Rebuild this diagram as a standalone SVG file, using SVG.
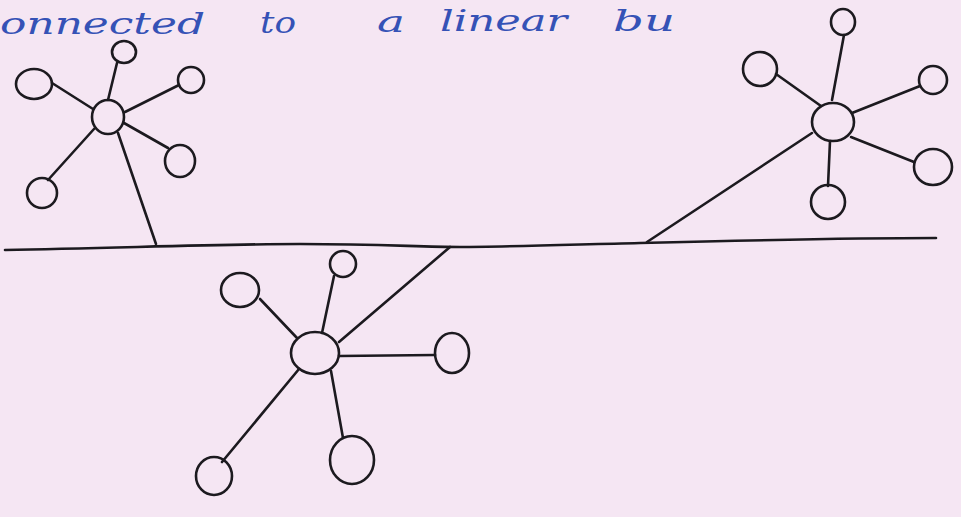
<svg xmlns="http://www.w3.org/2000/svg" width="961" height="517" viewBox="0 0 961 517">
<style>
.bg{fill:#f5e6f3}
.n{fill:none;stroke:#1c1a1f;stroke-width:2.6}
.c{fill:none;stroke:#1c1a1f;stroke-width:2.6;stroke-linecap:round;stroke-linejoin:round}
.t{font-family:"DejaVu Serif","Liberation Serif",serif;font-style:italic;fill:#3552b6;font-size:29px}
</style>
<rect class="bg" x="0" y="0" width="961" height="517"/>
<g id="caption">
<text class="t" x="0" y="34" textLength="205" lengthAdjust="spacingAndGlyphs">onnected</text>
<text class="t" x="260" y="33" textLength="36" lengthAdjust="spacingAndGlyphs">to</text>
<text class="t" x="377" y="32" textLength="28" lengthAdjust="spacingAndGlyphs">a</text>
<text class="t" x="440" y="31" textLength="127" lengthAdjust="spacingAndGlyphs">linear</text>
<text class="t" x="613" y="31" textLength="62" lengthAdjust="spacingAndGlyphs">bu</text>
</g>
<g id="connectors">
<path id="bus" class="c" d="M5 250 C120 248 220 244 300 244 S420 247 460 247 S560 245 640 243 S860 238 936 238"/>
<line class="c" x1="108" y1="100" x2="117" y2="63"/>
<line class="c" x1="93" y1="109" x2="52" y2="83"/>
<line class="c" x1="125" y1="112" x2="179" y2="85"/>
<line class="c" x1="124" y1="123" x2="168" y2="148"/>
<line class="c" x1="94" y1="129" x2="48" y2="180"/>
<line class="c" x1="118" y1="133" x2="156" y2="244"/>
<line class="c" x1="844" y1="35" x2="832" y2="100"/>
<line class="c" x1="776" y1="74" x2="821" y2="106"/>
<line class="c" x1="920" y1="86" x2="852" y2="113"/>
<line class="c" x1="851" y1="137" x2="914" y2="162"/>
<line class="c" x1="830" y1="141" x2="828" y2="186"/>
<line class="c" x1="812" y1="133" x2="647" y2="242"/>
<line class="c" x1="322" y1="333" x2="334" y2="276"/>
<line class="c" x1="260" y1="299" x2="297" y2="338"/>
<line class="c" x1="339" y1="356" x2="435" y2="355"/>
<line class="c" x1="331" y1="371" x2="343" y2="438"/>
<line class="c" x1="299" y1="369" x2="222" y2="462"/>
<line class="c" x1="339" y1="342" x2="450" y2="247"/>
</g>
<g id="hub1"><ellipse class="n" cx="108" cy="117" rx="16" ry="17"/></g>
<g id="n1a"><ellipse class="n" cx="124" cy="52" rx="12" ry="11"/></g>
<g id="n1b"><ellipse class="n" cx="34" cy="84" rx="18" ry="15"/></g>
<g id="n1c"><ellipse class="n" cx="191" cy="80" rx="13" ry="13"/></g>
<g id="n1d"><ellipse class="n" cx="180" cy="161" rx="15" ry="16"/></g>
<g id="n1e"><ellipse class="n" cx="42" cy="193" rx="15" ry="15"/></g>
<g id="hub2"><ellipse class="n" cx="833" cy="122" rx="21" ry="19"/></g>
<g id="n2a"><ellipse class="n" cx="843" cy="22" rx="12" ry="13"/></g>
<g id="n2b"><ellipse class="n" cx="760" cy="69" rx="17" ry="17"/></g>
<g id="n2c"><ellipse class="n" cx="933" cy="80" rx="14" ry="14"/></g>
<g id="n2d"><ellipse class="n" cx="933" cy="167" rx="19" ry="18"/></g>
<g id="n2e"><ellipse class="n" cx="828" cy="202" rx="17" ry="17"/></g>
<g id="hub3"><ellipse class="n" cx="315" cy="353" rx="24" ry="21"/></g>
<g id="n3a"><ellipse class="n" cx="343" cy="264" rx="13" ry="13"/></g>
<g id="n3b"><ellipse class="n" cx="240" cy="290" rx="19" ry="17"/></g>
<g id="n3c"><ellipse class="n" cx="452" cy="353" rx="17" ry="20"/></g>
<g id="n3d"><ellipse class="n" cx="352" cy="460" rx="22" ry="24"/></g>
<g id="n3e"><ellipse class="n" cx="214" cy="476" rx="18" ry="19"/></g>
</svg>
